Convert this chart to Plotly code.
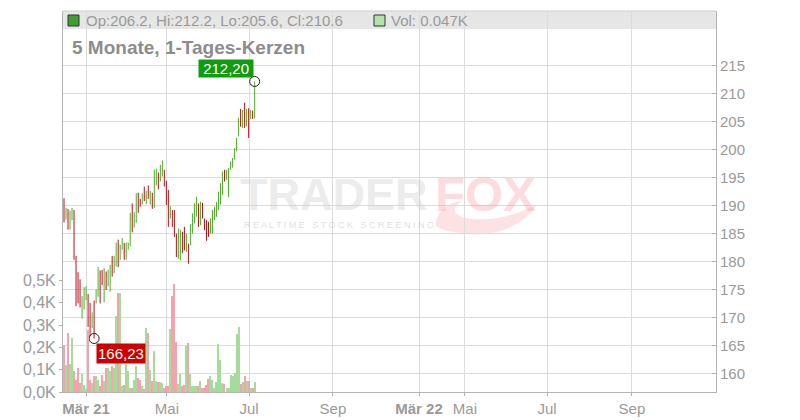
import plotly.graph_objects as go

# ---- data ----
opens = [190.5, 187.8, 189.0, 186.0, 187.8, 188.9, 180.6, 177.6, 176.2, 170.3,
         171.9, 173.4, 173.8, 172.1, 168.4, 172.5, 172.8, 174.1, 178.0, 178.2,
         173.1, 177.9, 175.9, 175.0, 180.7, 178.2, 179.5, 183.5, 180.6, 182.4,
         183.0, 180.6, 182.3, 183.0, 190.0, 186.4, 187.2, 192.0, 191.0, 190.4,
         193.1, 190.5, 193.3, 190.5, 192.0, 190.0, 193.9, 195.6, 194.6, 195.5,
         196.1, 194.1, 192.4, 187.9, 188.9, 188.8, 184.7, 180.9, 180.6, 185.0,
         185.8, 182.0, 182.9, 183.2, 185.3, 187.1, 188.3, 190.1, 186.8, 190.2,
         187.5, 187.1, 186.8, 185.3, 185.3, 187.6, 188.2, 189.5, 190.5, 192.2,
         196.1, 194.8, 191.8, 196.6, 197.0, 198.4, 199.9, 202.6, 207.0, 204.2,
         208.1, 204.5, 207.1, 205.6, 206.8, 206.2]
highs = [191.3, 189.6, 189.4, 189.1, 189.6, 189.2, 181.0, 178.1, 176.8, 173.8,
         175.4, 175.6, 174.2, 172.6, 170.9, 173.0, 175.0, 179.0, 178.4, 178.5,
         178.8, 178.2, 178.5, 179.4, 181.0, 181.0, 183.4, 183.9, 183.0, 184.2,
         183.3, 183.4, 183.4, 188.7, 190.4, 188.8, 192.2, 192.3, 191.2, 192.2,
         193.4, 192.6, 193.6, 192.6, 192.3, 196.4, 196.6, 195.9, 197.3, 198.1,
         196.4, 194.4, 192.8, 189.9, 189.2, 189.2, 185.0, 185.9, 185.7, 185.3,
         186.2, 185.0, 183.2, 186.7, 188.6, 190.4, 191.6, 190.4, 190.7, 190.5,
         187.7, 187.4, 187.1, 187.7, 189.2, 189.8, 190.6, 192.5, 194.0, 196.1,
         196.4, 196.4, 196.7, 197.9, 198.5, 200.3, 202.1, 205.7, 207.3, 207.1,
         208.4, 207.3, 207.4, 207.1, 207.0, 212.2]
lows = [187.0, 187.5, 185.7, 185.7, 187.4, 180.3, 172.0, 172.5, 171.8, 169.8,
        171.4, 173.1, 168.3, 166.6, 168.1, 166.23, 172.5, 173.7, 172.5, 175.8,
        172.7, 174.9, 175.6, 174.6, 177.3, 177.9, 179.1, 179.0, 180.3, 182.1,
        180.3, 180.3, 182.1, 182.7, 185.2, 186.1, 186.9, 188.7, 189.8, 190.2,
        190.8, 190.3, 191.2, 190.2, 189.4, 189.6, 193.6, 192.9, 194.3, 195.2,
        193.4, 190.1, 186.2, 187.7, 186.2, 184.4, 180.8, 180.5, 180.2, 181.5,
        182.0, 181.7, 179.6, 182.9, 185.0, 186.8, 188.0, 186.2, 186.5, 187.7,
        185.6, 183.7, 184.4, 185.0, 185.0, 187.4, 188.0, 189.2, 190.2, 191.9,
        194.3, 194.6, 191.5, 196.4, 196.8, 198.2, 199.7, 202.4, 204.1, 203.9,
        203.9, 204.2, 202.1, 205.4, 205.5, 205.6]
closes = [187.6, 189.2, 186.2, 188.8, 189.3, 181.0, 172.6, 173.0, 172.3, 173.4,
          175.0, 175.3, 168.8, 167.2, 170.6, 166.9, 174.7, 178.6, 173.0, 176.1,
          178.4, 175.2, 178.2, 179.0, 177.6, 180.7, 183.0, 179.4, 182.7, 183.9,
          180.6, 183.1, 183.2, 188.3, 185.6, 188.5, 191.8, 189.0, 190.0, 192.0,
          191.1, 192.3, 191.5, 192.3, 189.7, 196.0, 196.3, 193.2, 197.0, 197.8,
          193.7, 190.4, 186.6, 189.6, 186.5, 184.8, 181.1, 185.5, 185.3, 181.8,
          182.3, 184.7, 179.9, 186.4, 188.3, 190.1, 191.3, 186.5, 190.4, 188.0,
          185.9, 184.0, 184.7, 187.4, 188.9, 189.5, 190.3, 192.2, 193.7, 195.8,
          194.6, 196.1, 196.4, 197.7, 198.3, 200.0, 201.9, 205.4, 204.4, 206.8,
          204.2, 207.0, 202.4, 206.9, 205.8, 210.6]
volumes_k = [0.21, 0.12, 0.265, 0.125, 0.24, 0.093, 0.055, 0.108, 0.04, 0.082,
             0.03, 0.013, 0.28, 0.055, 0.04, 0.07, 0.07, 0.052, 0.028, 0.078,
             0.048, 0.108, 0.108, 0.093, 0.115, 0.108, 0.34, 0.445, 0.445, 0.025,
             0.033, 0.126, 0.093, 0.018, 0.02, 0.052, 0.118, 0.063, 0.052, 0.025,
             0.013, 0.287, 0.265, 0.097, 0.048, 0.183, 0.048, 0.046, 0.043, 0.04,
             0.02, 0.028, 0.025, 0.284, 0.43, 0.483, 0.226, 0.037, 0.082, 0.025,
             0.033, 0.205, 0.22, 0.082, 0.028, 0.025, 0.028, 0.028, 0.05, 0.02,
             0.02, 0.033, 0.06, 0.07, 0.055, 0.02, 0.043, 0.217, 0.145, 0.04,
             0.037, 0.02, 0.02, 0.078, 0.07, 0.085, 0.262, 0.29, 0.037, 0.046,
             0.07, 0.048, 0.048, 0.018, 0.02, 0.047]

# x-axis tick positions (in bar units) and labels
tick_positions = [11.0, 51.3, 92.2, 134.0, 176.9, 199.8, 240.7, 283.0]
tick_labels = ["<b>Mär 21</b>", "Mai", "Jul", "Sep", "<b>Mär 22</b>", "Mai", "Jul", "Sep"]
price_ticks = [160, 165, 170, 175, 180, 185, 190, 195, 200, 205, 210, 215]
vol_ticks = [0.0, 0.1, 0.2, 0.3, 0.4, 0.5]
vol_labels = ["0,0K", "0,1K", "0,2K", "0,3K", "0,4K", "0,5K"]

title_text = "5 Monate, 1-Tages-Kerzen"

# ---- styles ----
GREEN = "#4fae2c"
RED = "#b80f16"
VOL_GREEN = "#a6dc9a"
VOL_RED = "#f2a3ab"
GRID = "#dcdcdc"
AXIS = "#b4b4b4"
TXT = "#9a9a9a"
FONT = "Liberation Sans, Arial, sans-serif"

# plot-area geometry in page pixels (used only for placing decorations)
PX0, PX1, PY0, PY1 = 63.0, 716.0, 11.0, 392.0


def px(x):
    return (x - PX0) / (PX1 - PX0)


def py(y):
    return (PY1 - y) / (PY1 - PY0)


def pt(x, y):
    return f"{px(x):.4f},{py(y):.4f}"


n = len(closes)
xs = list(range(n))
vol_colors = [VOL_GREEN if c >= o else VOL_RED for o, c in zip(opens, closes)]

fig = go.Figure()

fig.add_trace(go.Bar(
    x=xs, y=volumes_k, yaxis="y2", marker=dict(color=vol_colors, line=dict(width=0)),
    width=0.55, hoverinfo="skip", showlegend=False))

fig.add_trace(go.Ohlc(
    x=xs, open=opens, high=highs, low=lows, close=closes,
    increasing=dict(line=dict(color=GREEN, width=1)),
    decreasing=dict(line=dict(color=RED, width=1)),
    tickwidth=0, showlegend=False, hoverinfo="skip"))

# extreme markers
i_max = highs.index(max(highs))
i_min = lows.index(min(lows))
fig.add_trace(go.Scatter(
    x=[i_max, i_min], y=[highs[i_max], lows[i_min]], mode="markers",
    marker=dict(symbol="circle-open", size=10, color="#222", line=dict(width=1)),
    showlegend=False, hoverinfo="skip"))

annotations = [
    dict(x=i_max, y=highs[i_max], xref="x", yref="y",
         text=" " + f"{highs[i_max]:.2f}".replace(".", ",") + " ", showarrow=False,
         xanchor="right", yanchor="bottom", xshift=-1, yshift=3,
         bgcolor="#109b10", borderpad=0,
         font=dict(family=FONT, size=15, color="white")),
    dict(x=i_min, y=lows[i_min], xref="x", yref="y",
         text=f"{lows[i_min]:.2f}".replace(".", ","), showarrow=False,
         xanchor="left", yanchor="top", xshift=2, yshift=-5,
         bgcolor="#cc0000", borderpad=1,
         font=dict(family=FONT, size=15, color="white")),
    # header
    dict(x=0.032, y=0.975, xref="paper", yref="paper", xanchor="left", yanchor="middle",
         text=f"Op:{opens[-1]}, Hi:{highs[-1]}, Lo:{lows[-1]}, Cl:{closes[-1]}",
         showarrow=False, font=dict(family=FONT, size=15, color=TXT)),
    dict(x=0.499, y=0.975, xref="paper", yref="paper", xanchor="left", yanchor="middle",
         text=f"Vol: {volumes_k[-1]:.3f}K",
         showarrow=False, font=dict(family=FONT, size=15, color=TXT)),
    dict(x=0.011, y=0.904, xref="paper", yref="paper", xanchor="left", yanchor="middle",
         text=f"<b>{title_text}</b>", showarrow=False,
         font=dict(family=FONT, size=19, color="#8c8c8c")),
    # watermark
    dict(x=px(334), y=py(194), xref="paper", yref="paper", xanchor="center", yanchor="middle",
         text="<b>TRADER</b>", showarrow=False,
         font=dict(family=FONT, size=45, color="rgba(200,200,200,0.35)")),
    dict(x=px(485), y=py(194), xref="paper", yref="paper", xanchor="center", yanchor="middle",
         text="<b>FOX</b>", showarrow=False,
         font=dict(family=FONT, size=49, color="rgba(245,140,150,0.3)")),
    dict(x=px(339), y=py(225), xref="paper", yref="paper", xanchor="center", yanchor="middle",
         text="R E A L T I M E   S T O C K   S C R E E N I N G", showarrow=False,
         font=dict(family=FONT, size=9, color="rgba(190,190,190,0.5)")),
]

# fox-tail swoosh of the watermark (page pixels -> paper), curved crescent
tail_path = (
    f"M {pt(436, 226)} "
    f"C {pt(436, 212)} {pt(446, 203)} {pt(462, 201)} "
    f"C {pt(452, 207)} {pt(452, 215)} {pt(466, 218)} "
    f"C {pt(490, 222)} {pt(515, 216)} {pt(538, 204)} "
    f"C {pt(522, 226)} {pt(498, 236)} {pt(472, 234)} "
    f"C {pt(455, 233)} {pt(442, 231)} {pt(436, 226)} Z"
)

shapes = [
    dict(type="rect", xref="paper", yref="paper", x0=0, x1=1, y0=py(29), y1=1.0,
         fillcolor="#e6e6e6", line=dict(width=0), layer="below"),
    dict(type="line", xref="paper", yref="paper", x0=0, x1=1, y0=1.0, y1=1.0,
         line=dict(color="#cfcfcf", width=1)),
    dict(type="rect", xref="paper", yref="paper", x0=px(68), x1=px(79), y0=py(26), y1=py(15),
         fillcolor="#3f9f2a", line=dict(color="#333", width=1)),
    dict(type="rect", xref="paper", yref="paper", x0=px(374), x1=px(385), y0=py(26), y1=py(15),
         fillcolor="#b2e3a8", line=dict(color="#333", width=1)),
    dict(type="path", xref="paper", yref="paper", path=tail_path,
         fillcolor="rgba(245,140,150,0.25)", line=dict(width=0), layer="below"),
]

# The page body has an 8px margin, so the figure is drawn 8px smaller and shifted.
fig.update_layout(
    width=792, height=412,
    margin=dict(l=55, r=84, t=3, b=28),
    paper_bgcolor="white", plot_bgcolor="white",
    showlegend=False, bargap=0,
    font=dict(family=FONT, color=TXT),
    annotations=annotations, shapes=shapes,
    xaxis=dict(range=[-0.5, 324.9], tickmode="array", tickvals=tick_positions,
               ticktext=tick_labels, showgrid=True, gridcolor=GRID, gridwidth=1,
               showline=True, linecolor=AXIS, linewidth=1, ticks="outside",
               ticklen=3, tickcolor=AXIS, zeroline=False,
               tickfont=dict(family=FONT, size=15, color=TXT),
               rangeslider=dict(visible=False), fixedrange=True),
    yaxis=dict(side="right", range=[156.66, 224.8], tickmode="array",
               tickvals=price_ticks, showgrid=True, gridcolor=GRID, gridwidth=1,
               showline=True, linecolor=AXIS, linewidth=1, ticks="inside",
               ticklen=4, tickcolor=AXIS, zeroline=False,
               tickfont=dict(family=FONT, size=15, color=TXT)),
    yaxis2=dict(overlaying="y", side="left", range=[0, 1.708], tickmode="array",
                tickvals=vol_ticks, ticktext=vol_labels, showgrid=False,
                showline=True, linecolor=AXIS, linewidth=1, ticks="outside",
                ticklen=3, tickcolor=AXIS, zeroline=False,
                tickfont=dict(family=FONT, size=16, color=TXT)),
)

fig.write_html("out.html")
